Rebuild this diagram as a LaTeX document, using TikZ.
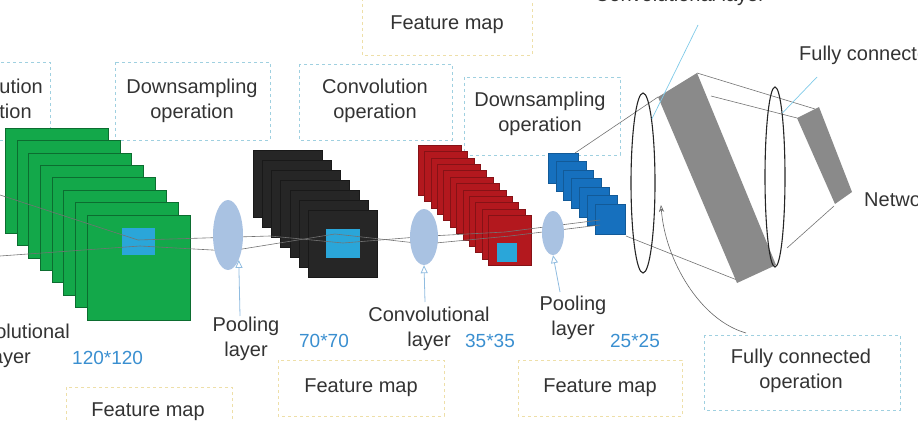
\documentclass[tikz,border=0pt]{standalone}
\usepackage{fontspec}
\setmainfont{Liberation Sans}
\usetikzlibrary{arrows.meta,shapes.geometric}
\definecolor{tgreen}{HTML}{13A84A}
\definecolor{tblack}{HTML}{262626}
\definecolor{tred}{HTML}{B3181E}
\definecolor{tblue}{HTML}{1670BE}
\definecolor{sq}{HTML}{2AA6D9}
\definecolor{pool}{HTML}{A9C2E2}
\definecolor{numc}{HTML}{3A8FD0}
\definecolor{bdash}{HTML}{9FD0E0}
\definecolor{ydash}{HTML}{EEDFA8}
\definecolor{fgray}{HTML}{8A8A8A}
\tikzset{
 txt/.style={font=\fontsize{20}{25}\selectfont, text=black!80, align=center, inner sep=0pt},
 num/.style={font=\fontsize{19}{23}\selectfont, text=numc, inner sep=0pt},
 obox/.style={draw=bdash, dashed, line width=0.8pt},
 fbox/.style={draw=ydash, dashed, line width=0.8pt},
 poolE/.style={ellipse, fill=pool, draw=none, inner sep=0pt},
 ringE/.style={ellipse, draw=black!85, line width=1.1pt, inner sep=0pt},
 parr/.style={draw=pool!80!sq, line width=0.8pt, -{Triangle[open,length=8pt,width=7pt]}},
 gl/.style={draw=black!55, line width=0.6pt},
 bl/.style={draw=sq!60, line width=0.7pt},
}
\begin{document}
\begin{tikzpicture}[x=1pt,y=-1pt]
\useasboundingbox (0,0) rectangle (918,422);
\clip (0,0) rectangle (918,422);
% operation boxes
\draw[obox] (-120,62) rectangle (50,140);
\node[txt] (op0) at (-10,101) {Convolution\\operation};
\draw[obox] (115,62) rectangle (270,140);
\node[txt] (op1) at (192,101) {Downsampling\\operation};
\draw[obox] (299,64) rectangle (452,140);
\node[txt] (op2) at (375,101) {Convolution\\operation};
\draw[obox] (464,77) rectangle (620,155);
\node[txt] (op3) at (540,114) {Downsampling\\operation};
\draw[obox] (704,335) rectangle (900,410);
\node[txt] (op4) at (801,371) {Fully connected\\operation};
% feature map boxes
\draw[fbox] (362,-20) rectangle (532,55);
\node[txt] (fm0) at (447,25) {Feature map};
\draw[fbox] (66,387) rectangle (232,440);
\node[txt] (fm1) at (148,412) {Feature map};
\draw[fbox] (278,360) rectangle (444,416);
\node[txt] (fm2) at (361,388) {Feature map};
\draw[fbox] (518,360) rectangle (682,416);
\node[txt] (fm3) at (600,388) {Feature map};
% green stack
\foreach \i in {0,...,7}{
 \fill[tgreen, draw=black!35!tgreen, line width=0.4pt] (5+11.7*\i,128+12.4*\i) rectangle ++(103,105);}
\fill[sq] (122,228) rectangle (155,255);
% black stack
\foreach \i in {0,...,6}{
 \fill[tblack, draw=black!90, line width=0.4pt] (253+9.2*\i,150+10*\i) rectangle ++(69,67);}
\fill[sq] (326,229) rectangle (360,258);
% red stack
\foreach \i in {0,...,11}{
 \fill[tred, draw=black!25!tred, line width=0.4pt] (418+6.4*\i,145+6.4*\i) rectangle ++(43,50);}
\fill[sq] (497,243) rectangle (517,262);
% blue stack
\foreach \i in {0,...,6}{
 \fill[tblue, draw=black!20!tblue, line width=0.4pt] (548+7.8*\i,153+8.5*\i) rectangle ++(30,30);}
% gray lines through
\draw[gl] (0,195) -- (138,240) -- (270,236) -- (343,243) -- (430,236) -- (505,232) -- (600,220);
\draw[gl] (0,256) -- (140,246) -- (230,251) -- (335,234) -- (425,244) -- (510,236) -- (600,225);
% pooling ellipses
\node[poolE, minimum width=30pt, minimum height=70pt] (p1) at (228,235) {};
\node[poolE, minimum width=28pt, minimum height=56pt] (p2) at (424,237) {};
\node[poolE, minimum width=22pt, minimum height=44pt] (p3) at (553,233) {};
% bottom labels
\node[txt, anchor=east] (l0) at (70,346) {Convolutional\\layer};
\node[num, anchor=west] (n0) at (72,358) {120*120};
\node[txt] (l1) at (246,339) {Pooling\\layer};
\node[num] (n1) at (324,341) {70*70};
\node[txt] (l2) at (429,329) {Convolutional\\layer};
\node[num] (n2) at (490,341) {35*35};
\node[txt] (l3) at (573,318) {Pooling\\layer};
\node[num] (n3) at (635,341) {25*25};
\draw[parr] (240,316) -- (p1.south east);
\draw[parr] (425,302) -- (p2.south);
\draw[parr] (560,292) -- (p3.south);
% fully connected part
\coordinate (bt) at (575,153);
\coordinate (bb) at (626,236);
\draw[gl] (bt) -- (658,97);
\draw[gl] (bb) -- (737,280);
\fill[fgray] (658,97) -- (697,73) -- (776,265) -- (737,283) -- cycle;
\fill[fgray] (797,118) -- (819,107) -- (852,192) -- (835,204) -- cycle;
\draw[gl] (711,96) -- (797,118);
\draw[gl] (787,248) -- (834,206);
\draw[gl] (697,73) -- (815,109);
\node[ringE, minimum width=24pt, minimum height=180pt] (r1) at (643,183) {};
\node[ringE, minimum width=20pt, minimum height=180pt] (r2) at (775,177) {};
\node[txt, anchor=south] (cl) at (680,6) {Convolutional layer};
\draw[bl] (698,25) -- (r1.north east);
\node[txt, anchor=west] (fc) at (799,55) {Fully connected layer};
\draw[bl] (817,77) -- (r2.north east);
\node[txt, anchor=west] (nw) at (864,201) {Network output};
\draw[black!60, line width=0.6pt, -{Stealth[length=7pt,open]}] (746,333) .. controls (700,320) and (665,260) .. (661,205);
\end{tikzpicture}
\end{document}
